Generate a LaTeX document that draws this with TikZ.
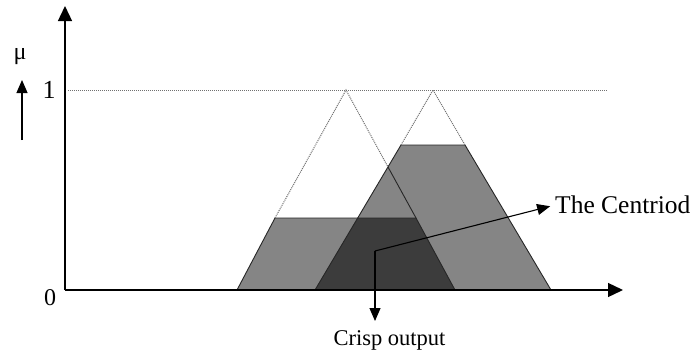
\documentclass[tikz,border=0pt]{standalone}
\usepackage{fontspec}
\setmainfont{Liberation Serif}
\usetikzlibrary{arrows.meta}
\definecolor{midgray}{HTML}{858585}
\definecolor{darkgray2}{HTML}{3C3C3C}
\definecolor{dotgray}{HTML}{707070}
\tikzset{
  axis/.style={line width=1.3pt,-{Triangle[length=15pt,width=14pt]}},
  ptr/.style={line width=1.1pt,-{Triangle[length=13pt,width=11pt]}},
  edge/.style={line width=0.9pt,black!85},
  dots/.style={line width=1pt,dotgray,densely dotted},
  lbl/.style={inner sep=0pt,font=\fontsize{24}{24}\selectfont}
}
\begin{document}
\begin{tikzpicture}[x=1pt,y=-1pt]
\useasboundingbox (0,0) rectangle (694,354);
\fill[white] (0,0) rectangle (694,354);
% named points
\coordinate (O) at (65,290);
\coordinate (ytop) at (65,6);
\coordinate (xend) at (623,290);
% fills
\fill[midgray] (237,290) -- (275,218) -- (416,218) -- (455,290) -- cycle;
\fill[midgray] (315,290) -- (401,145) -- (465,145) -- (551,290) -- cycle;
\fill[darkgray2] (315,290) -- (357.7,218) -- (416,218) -- (455,290) -- cycle;
% edges
\draw[edge] (237,290) -- (275,218) -- (416,218) -- (455,290);
\draw[edge] (315,290) -- (401,145) -- (465,145) -- (551,290);
\draw[edge] (388,167) -- (416,218);
% dotted
\draw[dots] (68,90) -- (608,90);
\draw[dots] (275,218) -- (346,90) -- (388,167);
\draw[dots] (401,145) -- (433,90) -- (465,145);
% axes
\draw[axis] (O) -- (ytop);
\draw[axis] (O) -- (xend);
% labels
\node[lbl] (mu) at (20,57) {μ};
\coordinate (mutail) at (22,140);
\coordinate (mutip) at (22,80);
\draw[ptr] (mutail) -- (mutip);
\node[lbl,font=\fontsize{26}{26}\selectfont] (one) at (49,90) {1};
\node[lbl] (zero) at (50,298) {0};
% centroid
\coordinate (c) at (375,251);
\node[lbl,anchor=west,font=\fontsize{25.5}{25.5}\selectfont] (cent) at (555,205) {The Centriod};
\node[lbl,anchor=base,font=\fontsize{22.5}{22.5}\selectfont] (crisp) at (389.5,345) {Crisp output};
\draw[ptr,shorten >=5pt] (c) -- (cent.west);
\draw[ptr] (c) -- (375,321) coordinate (ctip);
\end{tikzpicture}
\end{document}
